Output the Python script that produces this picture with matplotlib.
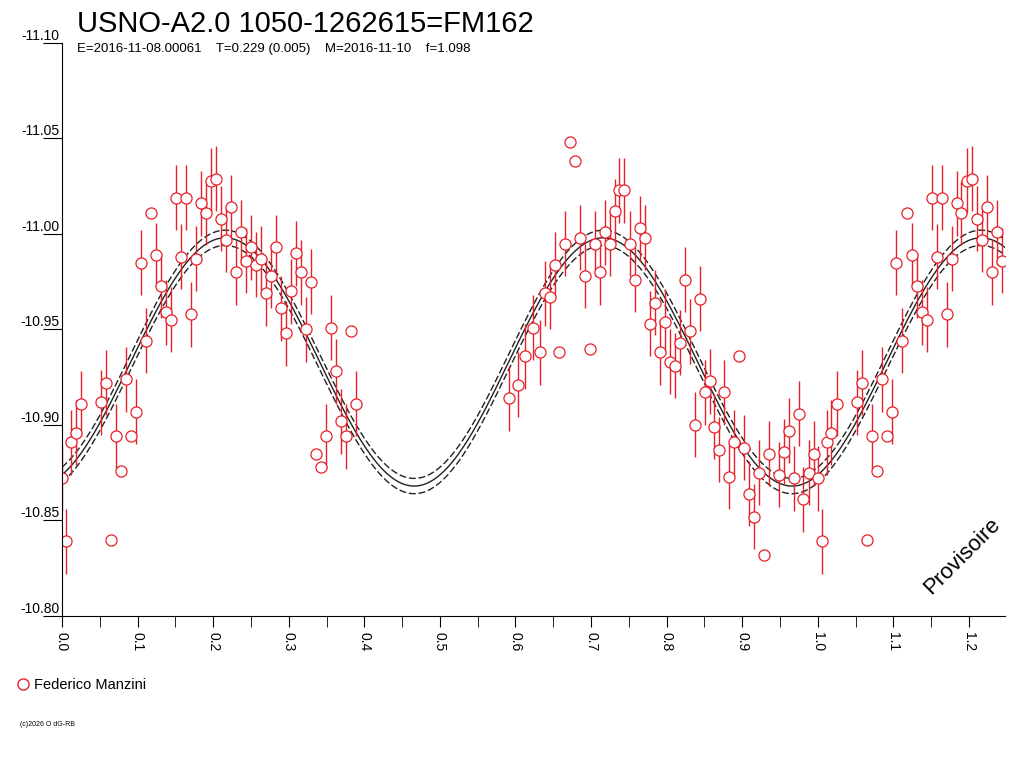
import numpy as np
import matplotlib.pyplot as plt

plt.rcParams['font.family'] = ['Liberation Sans', 'DejaVu Sans']

# phase, magnitude, error (0 = no error bar)
phase = [0.000, 0.005, 0.012, 0.018, 0.025, 0.052, 0.058, 0.065, 0.071, 0.078,
         0.085, 0.091, 0.098, 0.104, 0.111, 0.118, 0.124, 0.131, 0.138, 0.144,
         0.151, 0.157, 0.164, 0.171, 0.177, 0.184, 0.190, 0.197, 0.204, 0.210,
         0.217, 0.224, 0.230, 0.237, 0.243, 0.250, 0.257, 0.263, 0.270, 0.276,
         0.283, 0.290, 0.296, 0.303, 0.310, 0.316, 0.323, 0.329, 0.336, 0.343,
         0.349, 0.356, 0.362, 0.369, 0.376, 0.382, 0.389,
         0.591, 0.603, 0.612, 0.623, 0.632, 0.639, 0.646, 0.652, 0.657, 0.665,
         0.672, 0.679, 0.685, 0.692, 0.698, 0.705, 0.712, 0.718, 0.725, 0.731,
         0.737, 0.743, 0.751, 0.758, 0.765, 0.771, 0.778, 0.784, 0.791, 0.798,
         0.804, 0.811, 0.817, 0.824, 0.831, 0.837, 0.844, 0.851, 0.857, 0.862,
         0.869, 0.876, 0.882, 0.889, 0.896, 0.902, 0.909, 0.915, 0.922, 0.929,
         0.935, 0.948, 0.955, 0.962, 0.968, 0.975, 0.981, 0.988, 0.995]
mag = [-10.872, -10.839, -10.891, -10.896, -10.911, -10.912, -10.922, -10.840, -10.894, -10.876,
       -10.924, -10.894, -10.907, -10.985, -10.944, -11.011, -10.989, -10.973, -10.959, -10.955,
       -11.019, -10.988, -11.019, -10.958, -10.987, -11.016, -11.011, -11.028, -11.029, -11.008,
       -10.997, -11.014, -10.980, -11.001, -10.986, -10.993, -10.984, -10.987, -10.969, -10.978,
       -10.993, -10.961, -10.948, -10.970, -10.990, -10.980, -10.950, -10.975, -10.885, -10.878,
       -10.894, -10.951, -10.928, -10.902, -10.894, -10.949, -10.911,
       -10.914, -10.921, -10.936, -10.951, -10.938, -10.969, -10.967, -10.984, -10.938, -10.995,
       -11.048, -11.038, -10.998, -10.978, -10.940, -10.995, -10.980, -11.001, -10.995, -11.012,
       -11.023, -11.023, -10.995, -10.976, -11.003, -10.998, -10.953, -10.964, -10.938, -10.954,
       -10.933, -10.931, -10.943, -10.976, -10.949, -10.900, -10.966, -10.917, -10.923, -10.899,
       -10.887, -10.917, -10.873, -10.891, -10.936, -10.888, -10.864, -10.852, -10.875, -10.832,
       -10.885, -10.874, -10.886, -10.897, -10.872, -10.906, -10.861, -10.875, -10.885]
err = [0.017, 0.017, 0.017, 0.017, 0.017, 0.017, 0.017, 0, 0.017, 0,
       0.017, 0, 0.017, 0.017, 0.017, 0, 0.017, 0.017, 0.017, 0.017,
       0.017, 0.017, 0.017, 0.017, 0.017, 0.017, 0.017, 0.017, 0.017, 0.017,
       0.017, 0.017, 0.017, 0.017, 0.017, 0.017, 0.017, 0.017, 0.017, 0.017,
       0.017, 0.017, 0.017, 0.017, 0.017, 0.017, 0.017, 0.017, 0, 0,
       0.017, 0.017, 0.017, 0.017, 0.017, 0, 0.017,
       0.017, 0.017, 0.017, 0.017, 0.017, 0.017, 0.017, 0.017, 0, 0.017,
       0, 0, 0.017, 0.017, 0, 0.017, 0.017, 0.017, 0.017, 0.017,
       0.017, 0.017, 0.017, 0.017, 0.017, 0.017, 0.017, 0.017, 0.017, 0.017,
       0.017, 0.017, 0.017, 0.017, 0.017, 0.017, 0.017, 0.017, 0.017, 0.017,
       0.017, 0.017, 0.017, 0.017, 0, 0.017, 0.017, 0.017, 0.017, 0,
       0.017, 0.017, 0.017, 0.017, 0.017, 0.017, 0.017, 0.017, 0.017]

# fit parameters (double wave)
fit_mean = -10.933
fit_amp = 0.065
fit_max_phase = 0.216
fit_sigma = 0.004

phase = np.array(phase)
mag = np.array(mag)
err = np.array(err)

# repeat the start of the cycle beyond phase 1
xmax = 1.247
wrap = phase < xmax - 1
ph = np.concatenate([phase, phase[wrap] + 1])
mg = np.concatenate([mag, mag[wrap]])
er = np.concatenate([err, err[wrap]])

fig = plt.figure(figsize=(10.24, 7.68), dpi=100)
ax = fig.add_axes([0.0605, 0.198, 0.9205, 0.746])

xs = np.linspace(0, xmax, 600)
model = fit_mean - fit_amp * np.cos(2 * np.pi * (xs - fit_max_phase) / 0.5)
ax.plot(xs, model, color='#222222', lw=1.0)
ax.plot(xs, model - fit_sigma, color='#222222', lw=1.0, ls=(0, (5, 2)))
ax.plot(xs, model + fit_sigma, color='#222222', lw=1.0, ls=(0, (5, 2)))

has = er > 0
ax.vlines(ph[has], mg[has] - er[has], mg[has] + er[has], color='#e8202a', lw=1.0)
ax.plot(ph, mg, 'o', mfc='white', mec='#e8202a', ms=8, mew=0.9)

ax.set_xlim(0, xmax)
ax.set_ylim(-10.80, -11.10)
ax.spines['top'].set_visible(False)
ax.spines['right'].set_visible(False)
ax.set_xticks(np.arange(0, 1.25, 0.1))
ax.set_xticklabels([f'{v:.1f}' for v in np.arange(0, 1.25, 0.1)], rotation=270, fontsize=10)
ax.set_xticks(np.arange(0.05, 1.25, 0.1), minor=True)
ax.tick_params(axis='x', which='both', direction='out', length=8, color='black')
yt = np.arange(-11.10, -10.79, 0.05)
ax.set_yticks(yt)
ax.set_yticklabels([f'{v:.2f}' for v in yt], fontsize=10, va='bottom')
ax.tick_params(axis='y', direction='out', length=14, pad=-12)

fig.text(0.075, 0.958, 'USNO-A2.0 1050-1262615=FM162', fontsize=21)
fig.text(0.075, 0.932, 'E=2016-11-08.00061    T=0.229 (0.005)    M=2016-11-10    f=1.098', fontsize=9.5)
ax.text(0.955, 0.03, 'Provisoire', transform=ax.transAxes, rotation=45,
        fontsize=16, ha='center', va='bottom')

fig.lines.append(plt.Line2D([0.022], [0.11], marker='o', mfc='none', mec='#e8202a',
                            ms=8, transform=fig.transFigure))
fig.text(0.033, 0.103, 'Federico Manzini', fontsize=10.5)
fig.text(0.02, 0.055, '(c)2026 O dG-RB', fontsize=5)

fig.savefig('out.png', dpi=100)
